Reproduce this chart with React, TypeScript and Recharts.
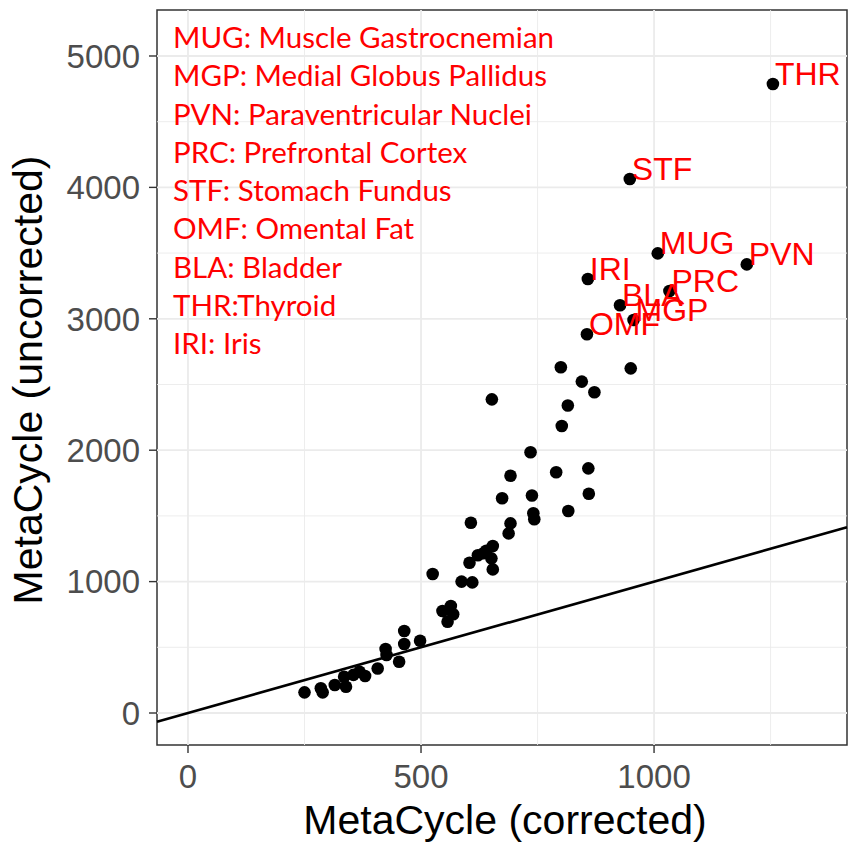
import React from "react";
import {
  ScatterChart,
  Scatter,
  XAxis,
  YAxis,
  ReferenceLine,
  ReferenceArea,
} from "recharts";

// ---- data ----
const labeledX = [1255, 948, 1008, 1199, 858, 1033, 927, 956, 856];
const labeledY = [4787, 4064, 3498, 3414, 3303, 3212, 3103, 2991, 2882];
const labelNames = ["THR", "STF", "MUG", "PVN", "IRI", "PRC", "BLA", "MGP", "OMF"];

const otherX = [
  800, 950, 845, 872, 815, 652, 802, 735, 790, 859, 692, 674, 738, 860, 816,
  741, 743, 692, 688, 607, 654, 634, 622, 640, 651, 604, 654, 525, 587, 610,
  564, 546, 569, 557, 464, 498, 464, 424, 426, 453, 407, 368, 380, 355, 335,
  339, 315, 285, 289, 250,
];
const otherY = [
  2631, 2623, 2522, 2441, 2340, 2387, 2184, 1984, 1832, 1862, 1806, 1634, 1655,
  1669, 1537, 1520, 1474, 1443, 1367, 1448, 1271, 1216, 1200, 1235, 1177, 1144,
  1093, 1058, 1000, 994, 814, 776, 751, 695, 624, 550, 525, 487, 441, 390, 339,
  314, 282, 290, 276, 200, 213, 188, 157, 157,
];

const legendLines = [
  "MUG: Muscle Gastrocnemian",
  "MGP: Medial Globus Pallidus",
  "PVN: Paraventricular Nuclei",
  "PRC: Prefrontal Cortex",
  "STF: Stomach Fundus",
  "OMF: Omental Fat",
  "BLA: Bladder",
  "THR:Thyroid",
  "IRI: Iris",
];

const xTicks = [0, 500, 1000];
const yTicks = [0, 1000, 2000, 3000, 4000, 5000];
const xMinor = [250, 750, 1250];
const yMinor = [500, 1500, 2500, 3500, 4500];
const xDomain: [number, number] = [-66.5, 1414];
const yDomain: [number, number] = [-243.5, 5350];

const labeledData = labeledX.map((x, i) => ({ x, y: labeledY[i], label: labelNames[i] }));
const otherData = otherX.map((x, i) => ({ x, y: otherY[i] }));
const allPoints = [...otherData, ...labeledData];

const FONT = "'Liberation Sans', Arial, Helvetica, sans-serif";
const GRID = "#EBEBEB";

const Dot = (props: any) => {
  const { cx, cy } = props;
  if (cx == null || cy == null) return null;
  return <circle cx={cx} cy={cy} r={6.3} fill="#000" />;
};

const LabelShape = (props: any) => {
  const { cx, cy, payload } = props;
  if (cx == null || cy == null) return null;
  return (
    <text x={cx + 2} y={cy + 1} fill="#FF0000" fontSize={32} fontFamily={FONT}>
      {payload.label}
    </text>
  );
};

export default function App() {
  return (
    <div style={{ position: "absolute", left: 0, top: 0, width: 848, height: 842, background: "#fff" }}>
      <ScatterChart
        width={848}
        height={842}
        margin={{ top: 10, right: 1, left: 0, bottom: 0 }}
      >
        <XAxis
          type="number"
          dataKey="x"
          domain={xDomain}
          allowDataOverflow
          ticks={xTicks}
          interval={0}
          height={97}
          axisLine={false}
          tickLine={{ stroke: "#333333", strokeWidth: 1.4 }}
          tickSize={8}
          tickMargin={12}
          tick={{ fill: "#4D4D4D", fontSize: 33, fontFamily: FONT }}
        />
        <YAxis
          type="number"
          dataKey="y"
          domain={yDomain}
          allowDataOverflow
          ticks={yTicks}
          interval={0}
          width={157}
          axisLine={false}
          tickLine={{ stroke: "#333333", strokeWidth: 1.4 }}
          tickSize={8}
          tickMargin={9}
          tick={{ fill: "#4D4D4D", fontSize: 33, fontFamily: FONT }}
        />
        {xMinor.map((v) => (
          <ReferenceLine key={"xm" + v} x={v} stroke={GRID} strokeWidth={0.9} />
        ))}
        {yMinor.map((v) => (
          <ReferenceLine key={"ym" + v} y={v} stroke={GRID} strokeWidth={0.9} />
        ))}
        {xTicks.map((v) => (
          <ReferenceLine key={"xM" + v} x={v} stroke={GRID} strokeWidth={1.8} />
        ))}
        {yTicks.map((v) => (
          <ReferenceLine key={"yM" + v} y={v} stroke={GRID} strokeWidth={1.8} />
        ))}
        <ReferenceLine
          segment={[
            { x: xDomain[0], y: xDomain[0] },
            { x: xDomain[1], y: xDomain[1] },
          ]}
          stroke="#000"
          strokeWidth={2.6}
        />
        <ReferenceArea
          x1={xDomain[0]}
          x2={xDomain[1]}
          y1={yDomain[0]}
          y2={yDomain[1]}
          fill="none"
          fillOpacity={0}
          stroke="#333333"
          strokeWidth={1.5}
        />
        <Scatter data={allPoints} shape={Dot} isAnimationActive={false} />
        <Scatter data={labeledData} shape={LabelShape} isAnimationActive={false} />
      </ScatterChart>
      <svg
        width={848}
        height={842}
        style={{ position: "absolute", left: 0, top: 0, pointerEvents: "none" }}
      >
        {legendLines.map((t, i) => (
          <text
            key={t}
            x={173}
            y={48 + i * 38.25}
            fill="#FF0000"
            fontSize={29.5}
            fontFamily="Lato, 'Open Sans', sans-serif"
          >
            {t}
          </text>
        ))}
        <text
          x={505}
          y={834}
          textAnchor="middle"
          fill="#000"
          fontSize={41}
          fontFamily={FONT}
        >
          MetaCycle (corrected)
        </text>
        <text
          transform="translate(42,380) rotate(-90)"
          textAnchor="middle"
          fill="#000"
          fontSize={41}
          fontFamily={FONT}
        >
          MetaCycle (uncorrected)
        </text>
      </svg>
    </div>
  );
}
